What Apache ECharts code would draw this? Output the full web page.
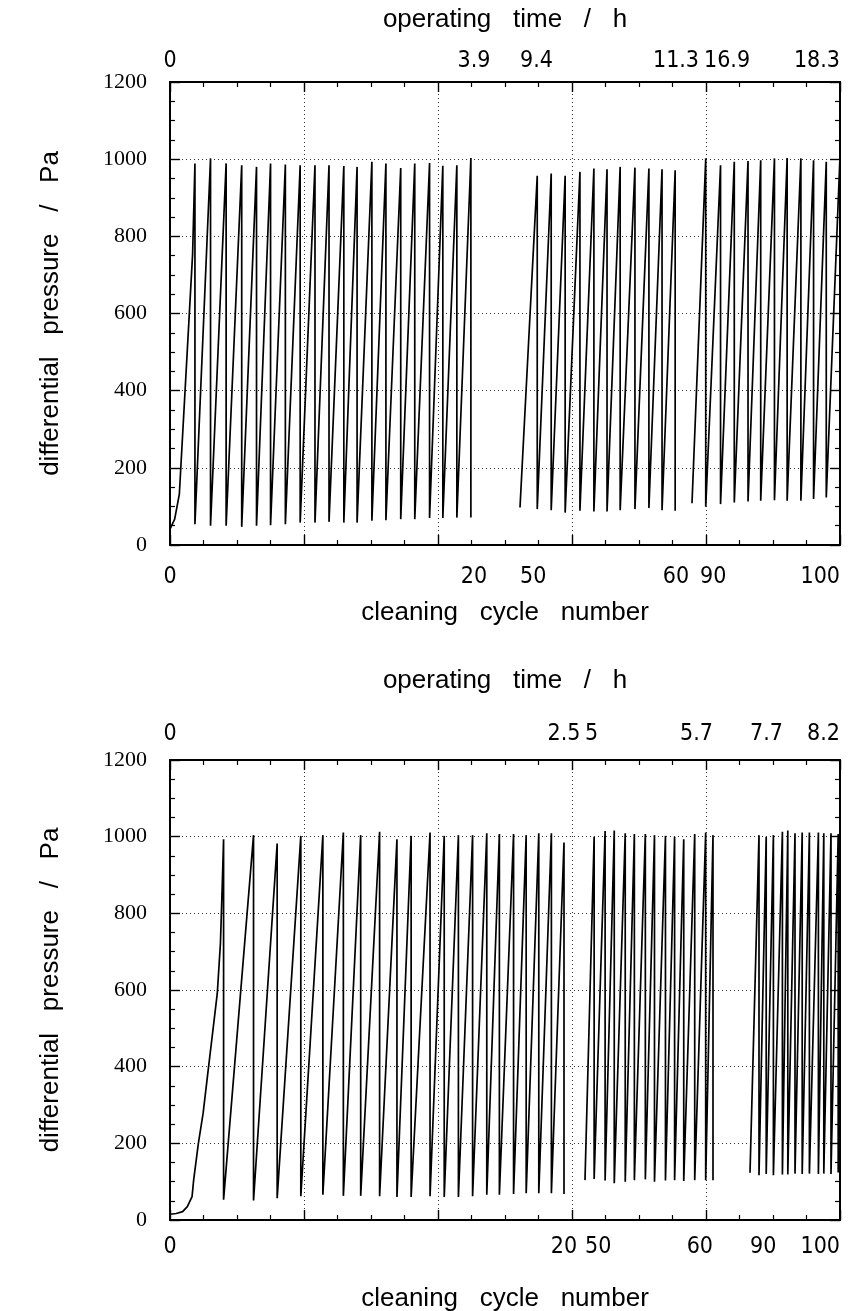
<!DOCTYPE html>
<html>
<head>
<meta charset="utf-8">
<script src="https://cdn.jsdelivr.net/npm/echarts@6/dist/echarts.min.js"></script>
<style>
  html, body { margin: 0; padding: 0; background: #fff; }
  #chart { width: 855px; height: 1311px; }
</style>
</head>
<body>
<div id="chart"></div>
<script>
// segment end labels (axis breaks)
const upperTimeLabels = [0, 3.9, 9.4, 11.3, 16.9, 18.3];
const upperCycleLabels = [0, 20, 50, 60, 90, 100];
const lowerTimeLabels = [0, 2.5, 5, 5.7, 7.7, 8.2];
const lowerCycleLabels = [0, 20, 50, 60, 90, 100];

// upper run: start of trace [h, Pa], cleaning times (h), peak before cleaning, value right after cleaning
const up1Start = [[0, 41], [0.06, 67], [0.12, 132], [0.29, 754]];
const up1Clean = [0.32, 0.52, 0.72, 0.92, 1.11, 1.29, 1.48, 1.67, 1.86, 2.04, 2.23, 2.40, 2.59, 2.77, 2.96, 3.14, 3.33, 3.50, 3.68, 3.86];
const up1Peak = [989, 1002, 989, 984, 980, 989, 986, 984, 984, 984, 982, 980, 993, 989, 977, 989, 990, 983, 984, 1003];
const up1Min = [54, 50, 50, 47, 50, 51, 54, 58, 58, 60, 58, 58, 63, 64, 67, 67, 70, 70, 71, 71];

const up2Start = [[9.4, 97]];
const up2Clean = [9.61, 9.78, 9.95, 10.13, 10.30, 10.46, 10.62, 10.80, 10.97, 11.13, 11.29];
const up2Peak = [957, 963, 957, 967, 976, 974, 980, 978, 976, 974, 971];
const up2Min = [93, 90, 84, 89, 87, 87, 90, 93, 96, 90, 89];

const up3Start = [[16.9, 108]];
const up3Clean = [17.03, 17.17, 17.30, 17.43, 17.55, 17.68, 17.80, 17.93, 18.05, 18.17, 18.30];
const up3Peak = [1002, 984, 993, 995, 997, 1002, 1003, 1002, 997, 993, 1006];
const up3Min = [99, 106, 110, 113, 115, 116, 115, 115, 119, 123];

// lower run
const lo1Start = [[0, 15], [0.04, 17], [0.08, 22], [0.11, 35], [0.14, 61], [0.15, 104], [0.18, 200], [0.21, 278], [0.24, 383], [0.27, 487], [0.30, 591], [0.32, 722], [0.33, 852]];
const lo1Clean = [0.34, 0.53, 0.68, 0.83, 0.97, 1.10, 1.21, 1.33, 1.44, 1.53, 1.65, 1.74, 1.83, 1.92, 2.01, 2.09, 2.18, 2.26, 2.34, 2.42, 2.50];
const lo1Peak = [993, 1004, 982, 1002, 1004, 1011, 1004, 1013, 993, 1002, 1011, 1002, 1004, 1004, 1009, 1007, 1007, 1004, 1009, 1009, 985];
const lo1Min = [53, 51, 57, 62, 66, 63, 63, 62, 60, 60, 62, 60, 60, 62, 66, 66, 68, 70, 70, 70, 68];

const lo2Start = [[5.0, 104]];
const lo2Clean = [5.05, 5.11, 5.16, 5.22, 5.27, 5.33, 5.38, 5.44, 5.49, 5.54, 5.60, 5.66, 5.70];
const lo2Peak = [1000, 1015, 1016, 1009, 1007, 1007, 1004, 1002, 1000, 993, 1007, 1011, 1004];
const lo2Min = [107, 103, 96, 100, 104, 106, 100, 103, 104, 102, 104, 104, 104];

const lo3Start = [[7.7, 123]];
const lo3Clean = [7.75, 7.79, 7.83, 7.88, 7.91, 7.95, 7.99, 8.03, 8.08, 8.11, 8.15, 8.19];
const lo3Peak = [1004, 1000, 1004, 1013, 1016, 1009, 1011, 1011, 1011, 1009, 1009, 1007];
const lo3Min = [117, 120, 117, 119, 119, 121, 120, 121, 120, 121, 120, 124];

const tickFont = "'Liberation Sans Narrow', 'DejaVu Sans Condensed', 'Liberation Sans', sans-serif";
const titleFont = "'Liberation Sans', Arial, sans-serif";
const valueFont = "'Liberation Serif', 'Times New Roman', serif";

// rise until cleaning, then vertical drop
function sawtooth(start, clean, peak, mins) {
  const pts = start.slice();
  clean.forEach((t, i) => {
    pts.push([t, peak[i]]);
    if (i < mins.length) pts.push([t, mins[i]]);
  });
  return pts;
}

const chart = echarts.init(document.getElementById('chart'));

const frameLeft = 170, frameWidth = 670;

const panels = [
  {
    top: 82, height: 463,
    segPx: [[170, 474], [520, 676], [692, 840]],
    times: upperTimeLabels, cycles: upperCycleLabels,
    traces: [
      sawtooth(up1Start, up1Clean, up1Peak, up1Min),
      sawtooth(up2Start, up2Clean, up2Peak, up2Min),
      sawtooth(up3Start, up3Clean, up3Peak, up3Min)
    ],
    minAlign: ['center', 'left', 'left'], maxAlign: ['center', 'center', 'right'],
    timePad: [0, 0, 12], cyclePad: [0, 0, 8],
    topMargin: 9, bottomMargin: 21, topNameGap: 49, bottomNameGap: 55
  },
  {
    top: 760, height: 460,
    segPx: [[170, 564], [585, 713], [750, 840]],
    times: lowerTimeLabels, cycles: lowerCycleLabels,
    traces: [
      sawtooth(lo1Start, lo1Clean, lo1Peak, lo1Min),
      sawtooth(lo2Start, lo2Clean, lo2Peak, lo2Min),
      sawtooth(lo3Start, lo3Clean, lo3Peak, lo3Min)
    ],
    minAlign: ['center', 'left', 'left'], maxAlign: ['center', 'right', 'right'],
    timePad: [0, 0, 0], cyclePad: [0, 0, 0],
    topMargin: 14, bottomMargin: 16, topNameGap: 66, bottomNameGap: 66
  }
];

const grid = [], xAxis = [], yAxis = [], series = [];
const dotted = { color: '#333', type: [1, 3], width: 1 };
const blackLine = { show: true, onZero: false, lineStyle: { color: '#000', width: 2 } };
const ticks = { show: true, inside: true, length: 10, lineStyle: { color: '#000', width: 1.4 } };
const minor = { show: true, splitNumber: 4, length: 5, lineStyle: { color: '#000', width: 1.2 } };
const titleStyle = { fontFamily: titleFont, fontSize: 26, color: '#000' };

panels.forEach(p => {
  // frame with regular ticks and dotted grid
  const g = grid.length;
  grid.push({ left: frameLeft, width: frameWidth, top: p.top, height: p.height, outerBoundsMode: 'none' });
  ['bottom', 'top'].forEach(pos => {
    xAxis.push({
      gridIndex: g, type: 'value', position: pos, min: 0, max: 20, interval: 4,
      axisLine: blackLine, axisTick: ticks, minorTick: minor,
      axisLabel: { show: false },
      splitLine: { show: pos === 'bottom', lineStyle: dotted },
      name: pos === 'bottom' ? 'cleaning   cycle   number' : 'operating   time   /   h',
      nameLocation: 'middle',
      nameGap: pos === 'bottom' ? p.bottomNameGap : p.topNameGap,
      nameTextStyle: titleStyle, nameMoveOverlap: false
    });
  });
  ['left', 'right'].forEach(pos => {
    yAxis.push({
      gridIndex: g, type: 'value', position: pos, min: 0, max: 1200, interval: 200,
      axisLine: blackLine, axisTick: ticks, minorTick: minor,
      axisLabel: {
        show: pos === 'left', fontFamily: valueFont, fontSize: 22, color: '#000', margin: 23,
        formatter: v => String(v)
      },
      splitLine: { show: pos === 'left', lineStyle: dotted },
      name: pos === 'left' ? 'differential   pressure   /   Pa' : '',
      nameLocation: 'middle', nameGap: 106, nameRotate: 90,
      nameTextStyle: titleStyle, nameMoveOverlap: false
    });
  });

  // one grid per axis segment, data drawn on its time axis
  p.segPx.forEach((px, s) => {
    const gi = grid.length;
    grid.push({ left: px[0], width: px[1] - px[0], top: p.top, height: p.height, outerBoundsMode: 'none' });
    const cMin = p.cycles[2 * s], cMax = p.cycles[2 * s + 1];
    const tMin = p.times[2 * s], tMax = p.times[2 * s + 1];
    const labelBase = {
      fontFamily: tickFont, fontSize: 23, color: '#000',
      alignMinLabel: p.minAlign[s], alignMaxLabel: p.maxAlign[s], hideOverlap: false,
      formatter: v => String(v)
    };
    xAxis.push({
      gridIndex: gi, type: 'value', position: 'bottom', min: cMin, max: cMax,
      axisLine: { show: false }, axisTick: { show: false }, splitLine: { show: false },
      axisLabel: Object.assign({
        customValues: [cMin, cMax], margin: p.bottomMargin, padding: [0, 0, 0, p.cyclePad[s]]
      }, labelBase)
    });
    const timeAxisIndex = xAxis.length;
    xAxis.push({
      gridIndex: gi, type: 'value', position: 'top', min: tMin, max: tMax,
      axisLine: { show: false }, axisTick: { show: false }, splitLine: { show: false },
      axisLabel: Object.assign({
        customValues: [tMin, tMax], margin: p.topMargin, padding: [0, 0, 0, p.timePad[s]]
      }, labelBase)
    });
    const yi = yAxis.length;
    yAxis.push({ gridIndex: gi, type: 'value', min: 0, max: 1200, show: false });
    series.push({
      type: 'line', xAxisIndex: timeAxisIndex, yAxisIndex: yi,
      data: p.traces[s], showSymbol: false, symbol: 'none', clip: false,
      lineStyle: { color: '#000', width: 1.7 }, z: 3
    });
  });
});

chart.setOption({
  animation: false,
  backgroundColor: '#fff',
  grid: grid,
  xAxis: xAxis,
  yAxis: yAxis,
  series: series
});
</script>
</body>
</html>
